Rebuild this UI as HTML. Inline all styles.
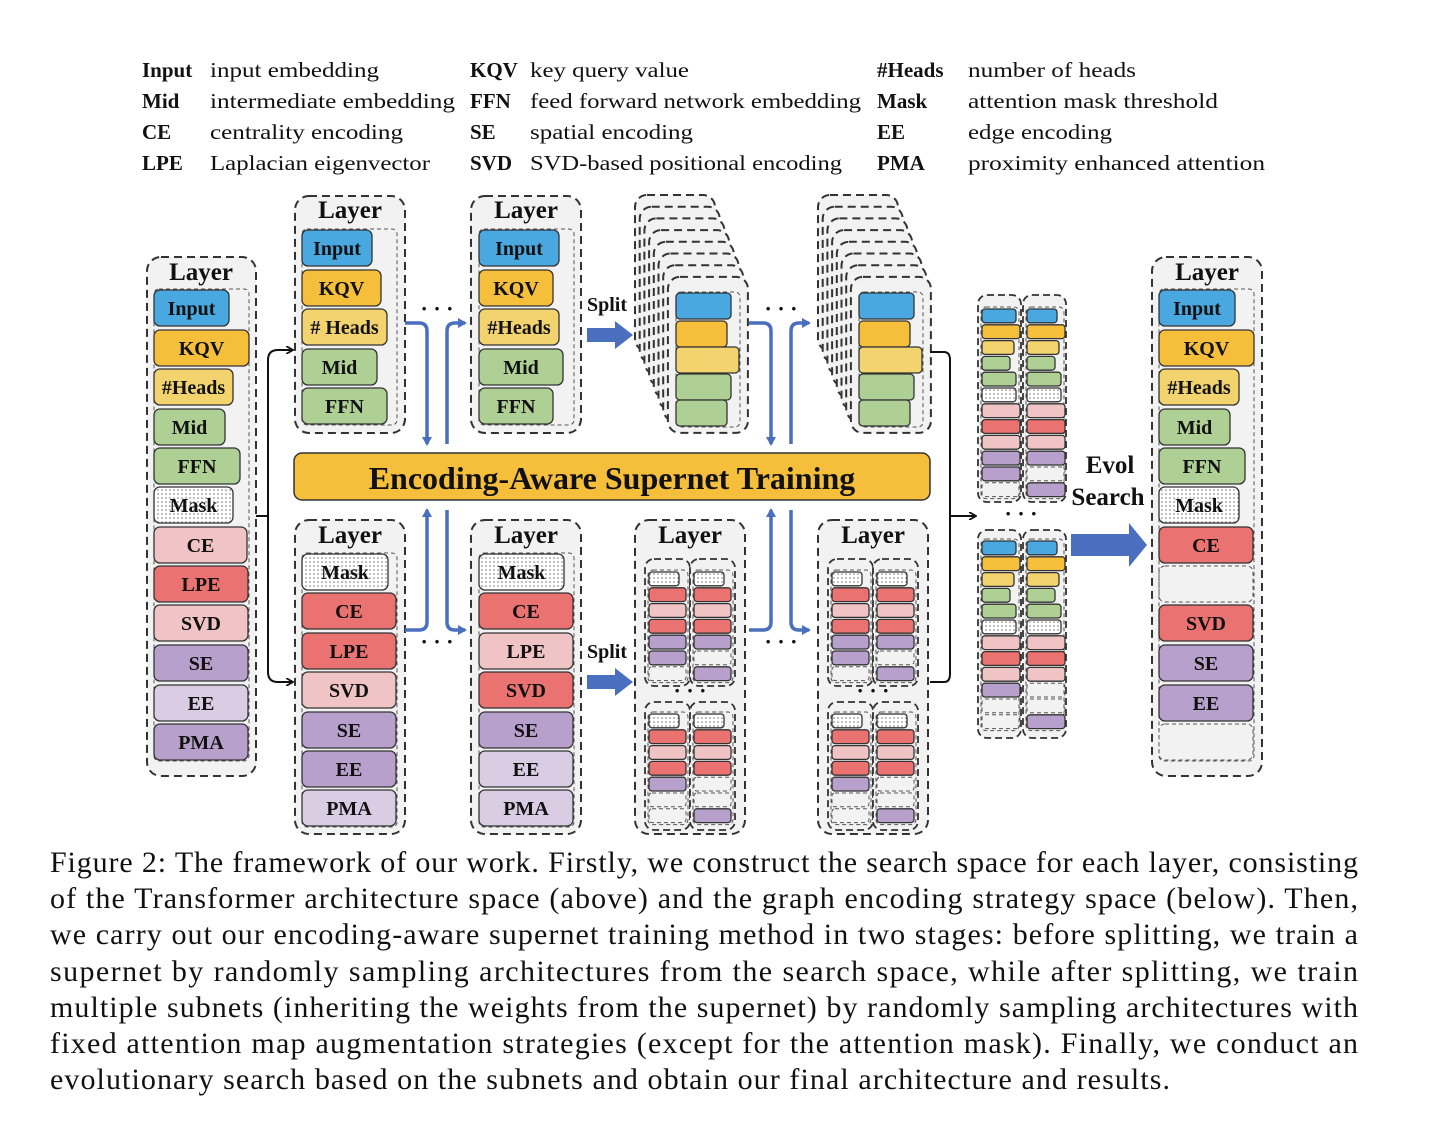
<!DOCTYPE html>
<html><head><meta charset="utf-8"><style>
html,body{margin:0;padding:0;background:#fff;width:1440px;height:1134px;overflow:hidden}
svg{display:block}
text{font-family:"Liberation Serif",serif;fill:#111}
.l{font-size:20px;text-anchor:middle;dominant-baseline:central;font-weight:bold}
.t{font-size:25px;text-anchor:middle;font-weight:bold}
.lg{font-size:21px}
.cp{font-size:30px}
</style></head><body>
<svg id="s" width="1440" height="1134" xmlns="http://www.w3.org/2000/svg">
<defs>
<pattern id="dot" width="4" height="4" patternUnits="userSpaceOnUse"><rect width="4" height="4" fill="#fff"/><circle cx="2" cy="2" r="0.8" fill="#777"/></pattern>
<marker id="ab" markerWidth="8" markerHeight="8" refX="6" refY="4" orient="auto" markerUnits="userSpaceOnUse"><path d="M0,0 L7,4 L0,8" fill="none" stroke="#111" stroke-width="1.8"/></marker>
<marker id="ub" markerWidth="10" markerHeight="10" refX="7" refY="5" orient="auto" markerUnits="userSpaceOnUse"><path d="M0,0 L9,5 L0,10 z" fill="#4a6fbf"/></marker>
</defs>
<g id="g"></g>
<g class="lg">
<text x="142" y="77" font-weight="bold">Input</text><text x="210" y="77" textLength="169" lengthAdjust="spacingAndGlyphs">input embedding</text>
<text x="142" y="108" font-weight="bold">Mid</text><text x="210" y="108" textLength="245" lengthAdjust="spacingAndGlyphs">intermediate embedding</text>
<text x="142" y="139" font-weight="bold">CE</text><text x="210" y="139" textLength="193" lengthAdjust="spacingAndGlyphs">centrality encoding</text>
<text x="142" y="170" font-weight="bold">LPE</text><text x="210" y="170" textLength="220" lengthAdjust="spacingAndGlyphs">Laplacian eigenvector</text>
<text x="470" y="77" font-weight="bold">KQV</text><text x="530" y="77" textLength="159" lengthAdjust="spacingAndGlyphs">key query value</text>
<text x="470" y="108" font-weight="bold">FFN</text><text x="530" y="108" textLength="331" lengthAdjust="spacingAndGlyphs">feed forward network embedding</text>
<text x="470" y="139" font-weight="bold">SE</text><text x="530" y="139" textLength="163" lengthAdjust="spacingAndGlyphs">spatial encoding</text>
<text x="470" y="170" font-weight="bold">SVD</text><text x="530" y="170" textLength="312" lengthAdjust="spacingAndGlyphs">SVD-based positional encoding</text>
<text x="877" y="77" font-weight="bold">#Heads</text><text x="968" y="77" textLength="168" lengthAdjust="spacingAndGlyphs">number of heads</text>
<text x="877" y="108" font-weight="bold">Mask</text><text x="968" y="108" textLength="250" lengthAdjust="spacingAndGlyphs">attention mask threshold</text>
<text x="877" y="139" font-weight="bold">EE</text><text x="968" y="139" textLength="144" lengthAdjust="spacingAndGlyphs">edge encoding</text>
<text x="877" y="170" font-weight="bold">PMA</text><text x="968" y="170" textLength="297" lengthAdjust="spacingAndGlyphs">proximity enhanced attention</text>
</g>
<g class="cp">
<text x="50" y="872" textLength="1308" lengthAdjust="spacing">Figure 2: The framework of our work. Firstly, we construct the search space for each layer, consisting</text>
<text x="50" y="908" textLength="1308" lengthAdjust="spacing">of the Transformer architecture space (above) and the graph encoding strategy space (below). Then,</text>
<text x="50" y="944" textLength="1308" lengthAdjust="spacing">we carry out our encoding-aware supernet training method in two stages: before splitting, we train a</text>
<text x="50" y="981" textLength="1308" lengthAdjust="spacing">supernet by randomly sampling architectures from the search space, while after splitting, we train</text>
<text x="50" y="1017" textLength="1308" lengthAdjust="spacing">multiple subnets (inheriting the weights from the supernet) by randomly sampling architectures with</text>
<text x="50" y="1053" textLength="1308" lengthAdjust="spacing">fixed attention map augmentation strategies (except for the attention mask). Finally, we conduct an</text>
<text x="50" y="1089" textLength="1120" lengthAdjust="spacing">evolutionary search based on the subnets and obtain our final architecture and results.</text>
</g>
<g id="txt"></g>
<text class="t" x="201" y="280">Layer</text>
<text class="t" x="350" y="218">Layer</text>
<text class="t" x="526" y="218">Layer</text>
<text class="t" x="350" y="543">Layer</text>
<text class="t" x="526" y="543">Layer</text>
<text class="t" x="690" y="543">Layer</text>
<text class="t" x="873" y="543">Layer</text>
<text class="t" x="1207" y="280">Layer</text>
<text x="612" y="478" font-size="32" font-weight="bold" text-anchor="middle" dominant-baseline="central">Encoding-Aware Supernet Training</text>
<text x="607" y="311" font-size="20" font-weight="bold" text-anchor="middle">Split</text>
<text x="607" y="658" font-size="20" font-weight="bold" text-anchor="middle">Split</text>
<text x="1110" y="473" font-size="25" font-weight="bold" text-anchor="middle">Evol</text>
<text x="1108" y="505" font-size="25" font-weight="bold" text-anchor="middle">Search</text>
<g font-size="22" font-weight="bold" text-anchor="middle">
<text x="437" y="316">· · ·</text><text x="437" y="649">· · ·</text>
<text x="781" y="316">· · ·</text><text x="781" y="649">· · ·</text>
<text x="690" y="698">· · ·</text><text x="873" y="698">· · ·</text>
<text x="1021" y="521">· · ·</text>
</g>
</svg>
<script>
const NS="http://www.w3.org/2000/svg",G=document.getElementById('g'),T=document.getElementById('txt');
const C={B:"#4aa8e0",O:"#f5bf3c",Y:"#f2d36e",G:"#afd094",R:"#ea7270",P:"#f0c4c4",U:"#b8a0cc",L:"#d9cce3",M:"url(#dot)"};
function el(tag,a,p){const e=document.createElementNS(NS,tag);for(const k in a)e.setAttribute(k,a[k]);(p||G).appendChild(e);return e;}
function box(x,y,w,h,rx,dash,sw){el('rect',{x,y,width:w,height:h,rx:rx,fill:'#f2f2f2',stroke:'#333','stroke-width':sw||2,'stroke-dasharray':dash||'8 5'});}
function inner(x,y,w,h){el('rect',{x,y,width:w,height:h,rx:5,fill:'none',stroke:'#555','stroke-width':1,'stroke-dasharray':'4 3'});}
function blk(x,y,w,h,c,lab,rx){
 if(c==='_'){el('rect',{x,y,width:w,height:h,rx:rx||6,fill:'none',stroke:'#555','stroke-width':1,'stroke-dasharray':'4 3'});}
 else el('rect',{x,y,width:w,height:h,rx:rx||6,fill:C[c],stroke:'#333','stroke-width':1.3});
 if(lab){const t=el('text',{x:x+w/2,y:y+h/2+1,class:'l'},T);t.textContent=lab;}
}
function col(x,cys,items,innerW){
 inner(x,cys[0]-19,innerW,cys[cys.length-1]-cys[0]+38);
 items.forEach((it,i)=>blk(x,cys[i]-18,it[1],36,it[0],it[2]));
}
const ry=[308,348,387,427,466,505,545,584,623,663,703,742];
box(147,257,109,519,14);
col(154,ry,[["B",75,"Input"],["O",95,"KQV"],["Y",79,"#Heads"],["G",71,"Mid"],["G",86,"FFN"],["M",79,"Mask"],["P",93,"CE"],["R",94,"LPE"],["P",94,"SVD"],["U",94,"SE"],["L",94,"EE"],["U",94,"PMA"]],95);
box(1152,257,110,519,14);
col(1159,ry,[["B",76,"Input"],["O",95,"KQV"],["Y",80,"#Heads"],["G",71,"Mid"],["G",86,"FFN"],["M",80,"Mask"],["R",94,"CE"],["_",94,""],["R",94,"SVD"],["U",94,"SE"],["U",94,"EE"],["_",94,""]],95);
const ty=[248,288,327,367,406];
box(295,196,110,237,14);
col(302,ty,[["B",70,"Input"],["O",79,"KQV"],["Y",85,"# Heads"],["G",75,"Mid"],["G",85,"FFN"]],95);
box(471,196,110,237,14);
col(479,ty,[["B",80,"Input"],["O",74,"KQV"],["Y",80,"#Heads"],["G",84,"Mid"],["G",74,"FFN"]],95);
const by=[572,611,651,690,730,769,808];
box(295,520,110,314,14);
col(302,by,[["M",86,"Mask"],["R",94,"CE"],["R",94,"LPE"],["P",94,"SVD"],["U",94,"SE"],["U",94,"EE"],["L",94,"PMA"]],95);
box(471,520,110,314,14);
col(479,by,[["M",85,"Mask"],["R",94,"CE"],["P",94,"LPE"],["R",94,"SVD"],["U",94,"SE"],["L",94,"EE"],["L",94,"PMA"]],95);
el('rect',{x:294,y:453,width:636,height:47,rx:8,fill:'#f5bf3c',stroke:'#333','stroke-width':1.5});
[0,183].forEach(dx=>{
 for(let i=0;i<8;i++){box(635+dx+i*4.7,195+i*11.7,80,156,12,'8 5',2);}
 const fx=676+dx;
 inner(fx,292,64,135);
 [["B",293,55],["O",321,51],["Y",347,63],["G",374,55],["G",400,51]].forEach(a=>blk(fx,a[1],a[2],26,a[0],null,4));
});
function mini(x,y,w,h,items,start,step,iw){
 box(x,y,w,h,9,'7 4',1.8);
 inner(x+3,start-2,w-5,items.length*step+2);
 items.forEach((c,i)=>{const wd=iw[i]||36;blk(x+4,start+i*step,wd,step-2,c,null,3);});
}
const st=15.8;
mini(978,295,43,207,"BOYGGMPRPUU_".split(''),309,st,[34,38,32,28,34,34,38,38,38,38,38,38]);
mini(1023,295,43,207,"BOYGGMPRPU_U".split(''),309,st,[30,38,32,28,34,34,38,38,38,38,38,38]);
mini(978,530,43,208,"BOYGGMPRPU__".split(''),541,st,[34,38,32,28,34,34,38,38,38,38,38,38]);
mini(1023,530,43,208,"BOYGGMPRP__U".split(''),541,st,[30,38,32,28,34,34,38,38,38,38,38,38]);
[0,183].forEach(dx=>{
 box(635+dx,520,110,314,14);
 const x0=645+dx;
 mini(x0,559,45,127,"MRPRUU_".split(''),572,st,[30,37,37,37,37,37,37]);
 mini(x0+45,559,45,127,"MRPRU_U".split(''),572,st,[30,37,37,37,37,37,37]);
 mini(x0,702,45,128,"MRPRU__".split(''),714,st,[30,37,37,37,37,37,37]);
 mini(x0+45,702,45,128,"MRPR__U".split(''),714,st,[30,37,37,37,37,37,37]);
});
const bk={fill:'none',stroke:'#111','stroke-width':2};
el('path',Object.assign({d:'M256,516 H268'},bk));
el('path',Object.assign({d:'M292,350 H278 Q268,350 268,360 V672 Q268,682 278,682 H292','marker-end':'url(#ab)'},bk));
el('path',Object.assign({d:'M280,350 H292','marker-end':'url(#ab)'},bk));
el('path',Object.assign({d:'M930,352 H944 Q950,352 950,360 V674 Q950,682 944,682 H930'},bk));
el('path',Object.assign({d:'M950,516 H975','marker-end':'url(#ab)'},bk));
const bl={fill:'none',stroke:'#4a6fbf','stroke-width':3.5};
function barrows(xa,xb,y,down){
 if(down){
  el('path',Object.assign({d:`M${xa-22},${y} H${xa-8} Q${xa},${y} ${xa},${y+8} V444`,'marker-end':'url(#ub)'},bl));
  el('path',Object.assign({d:`M${xb},444 V${y+8} Q${xb},${y} ${xb+8},${y} H${xb+18}`,'marker-end':'url(#ub)'},bl));
 }else{
  el('path',Object.assign({d:`M${xa-22},${y} H${xa-8} Q${xa},${y} ${xa},${y-8} V510`,'marker-end':'url(#ub)'},bl));
  el('path',Object.assign({d:`M${xb},510 V${y-8} Q${xb},${y} ${xb+8},${y} H${xb+18}`,'marker-end':'url(#ub)'},bl));
 }
}
barrows(427,447,323,true);barrows(771,791,323,true);
barrows(427,447,630,false);barrows(771,791,630,false);
function fat(x,y,w,h){el('path',{d:`M${x},${y-h/2} H${x+w-18} V${y-h} L${x+w},${y} L${x+w-18},${y+h} V${y+h/2} H${x} Z`,fill:'#4a6fbf'});}
fat(587,335,46,14);fat(587,682,46,14);
fat(1071,545,76,22);
</script>
</body></html>
